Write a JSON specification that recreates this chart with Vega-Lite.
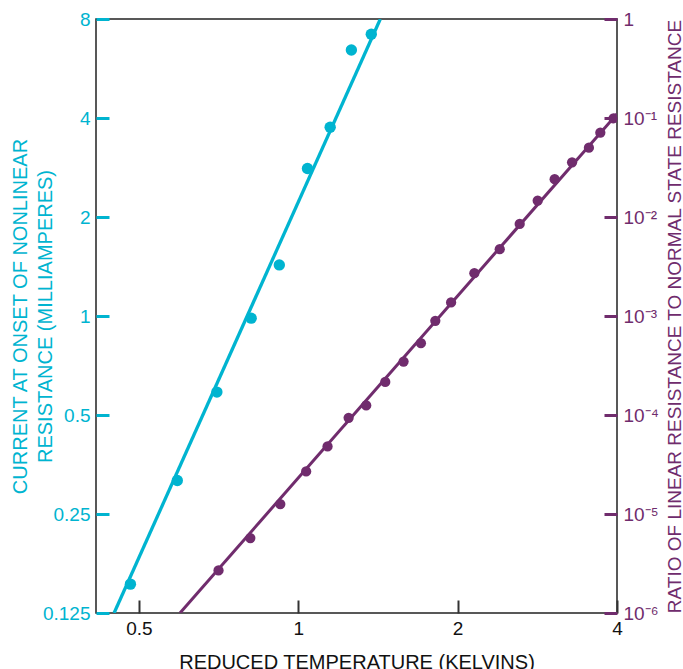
{
  "$schema": "https://vega.github.io/schema/vega-lite/v6.json",
  "width": 521,
  "height": 594,
  "autosize": {"type": "none"},
  "padding": {"left": 96, "top": 19, "right": 66, "bottom": 56},
  "background": "white",
  "config": {
    "font": "Liberation Sans",
    "view": {"stroke": "#222222", "strokeWidth": 1.5},
    "axis": {"grid": false, "domain": false, "titleFontWeight": "normal", "labelFont": "Liberation Sans", "titleFont": "Liberation Sans"}
  },
  "datasets": {
    "cyanPts": [
      {"T": 0.482, "I": 0.153},
      {"T": 0.591, "I": 0.316},
      {"T": 0.702, "I": 0.587},
      {"T": 0.815, "I": 0.985},
      {"T": 0.921, "I": 1.43},
      {"T": 1.041, "I": 2.81},
      {"T": 1.149, "I": 3.75},
      {"T": 1.26, "I": 6.44},
      {"T": 1.374, "I": 7.19}
    ],
    "cyanLine": [
      {"T": 0.449, "I": 0.125},
      {"T": 1.429, "I": 8}
    ],
    "purplePts": [
      {"T": 0.707, "R": 2.69e-6},
      {"T": 0.812, "R": 5.71e-6},
      {"T": 0.925, "R": 1.26e-5},
      {"T": 1.035, "R": 2.69e-5},
      {"T": 1.136, "R": 4.81e-5},
      {"T": 1.245, "R": 9.37e-5},
      {"T": 1.344, "R": 1.25e-4},
      {"T": 1.46, "R": 2.16e-4},
      {"T": 1.581, "R": 3.47e-4},
      {"T": 1.705, "R": 5.32e-4},
      {"T": 1.815, "R": 8.93e-4},
      {"T": 1.944, "R": 1.37e-3},
      {"T": 2.151, "R": 2.71e-3},
      {"T": 2.402, "R": 4.73e-3},
      {"T": 2.62, "R": 8.51e-3},
      {"T": 2.833, "R": 1.46e-2},
      {"T": 3.05, "R": 2.41e-2},
      {"T": 3.29, "R": 3.57e-2},
      {"T": 3.54, "R": 5.02e-2},
      {"T": 3.72, "R": 7.11e-2},
      {"T": 3.94, "R": 9.93e-2}
    ],
    "purpleLine": [
      {"T": 0.598, "R": 1e-6},
      {"T": 4, "R": 0.11}
    ]
  },
  "layer": [
    {
      "encoding": {
        "x": {
          "field": "T", "type": "quantitative",
          "scale": {"type": "log", "domain": [0.415, 4], "nice": false},
          "axis": {
            "orient": "bottom", "values": [0.5, 1, 2, 4], "format": "~g",
            "tickSize": -13, "tickWidth": 2, "tickColor": "#333333",
            "labelPadding": 19, "labelFontSize": 19, "labelColor": "#111111", "labelFlush": false,
            "title": "REDUCED TEMPERATURE (KELVINS)", "titleFontSize": 20, "titleColor": "#111111",
            "titleBaseline": "top", "titleY": 39
          }
        },
        "y": {
          "field": "I", "type": "quantitative",
          "scale": {"type": "log", "base": 2, "domain": [0.125, 8], "nice": false},
          "axis": {
            "orient": "left", "values": [0.125, 0.25, 0.5, 1, 2, 4, 8], "format": ".3~f",
            "tickSize": -13, "tickWidth": 3, "tickColor": "#00B4D0",
            "labelPadding": 19, "labelFontSize": 19, "labelColor": "#00B4D0", "labelFlush": false,
            "title": ["CURRENT AT ONSET OF NONLINEAR", "RESISTANCE (MILLIAMPERES)"],
            "titleFontSize": 20, "titleColor": "#00B4D0", "titleLineHeight": 25,
            "titleAngle": -90, "titleBaseline": "middle", "titleAlign": "center",
            "titleX": -76, "titleY": 297
          }
        }
      },
      "layer": [
        {"data": {"name": "cyanLine"}, "mark": {"type": "line", "color": "#00B4D0", "strokeWidth": 3.3, "clip": true}},
        {"data": {"name": "cyanPts"}, "mark": {"type": "circle", "color": "#00B4D0", "opacity": 1, "size": 130, "clip": true}}
      ]
    },
    {
      "encoding": {
        "x": {
          "field": "T", "type": "quantitative",
          "scale": {"type": "log", "domain": [0.415, 4], "nice": false},
          "axis": {
            "orient": "bottom", "values": [0.5, 1, 2, 4], "format": "~g",
            "tickSize": -13, "tickWidth": 2, "tickColor": "#333333",
            "labelPadding": 19, "labelFontSize": 19, "labelColor": "#111111", "labelFlush": false,
            "title": "REDUCED TEMPERATURE (KELVINS)", "titleFontSize": 20, "titleColor": "#111111",
            "titleBaseline": "top", "titleY": 39
          }
        },
        "y": {
          "field": "R", "type": "quantitative",
          "scale": {"type": "log", "domain": [1e-6, 1], "nice": false},
          "axis": {
            "orient": "right", "values": [1e-6, 1e-5, 1e-4, 1e-3, 1e-2, 1e-1, 1],
            "labelExpr": "datum.value >= 0.5 ? '1' : '10⁻' + ['', '¹', '²', '³', '⁴', '⁵', '⁶'][round(-log(datum.value) / LN10)]",
            "tickSize": -13, "tickWidth": 3, "tickColor": "#702C6D",
            "labelPadding": 19, "labelFontSize": 19, "labelColor": "#702C6D", "labelFlush": false,
            "title": "RATIO OF LINEAR RESISTANCE TO NORMAL STATE RESISTANCE",
            "titleFontSize": 19, "titleColor": "#702C6D",
            "titleAngle": -90, "titleBaseline": "middle", "titleAlign": "center",
            "titleX": 57, "titleY": 297
          }
        }
      },
      "layer": [
        {"data": {"name": "purpleLine"}, "mark": {"type": "line", "color": "#702C6D", "strokeWidth": 3, "clip": true}},
        {"data": {"name": "purplePts"}, "mark": {"type": "circle", "color": "#702C6D", "opacity": 1, "size": 105, "clip": true}}
      ]
    }
  ],
  "resolve": {"scale": {"y": "independent"}, "axis": {"y": "independent"}}
}
